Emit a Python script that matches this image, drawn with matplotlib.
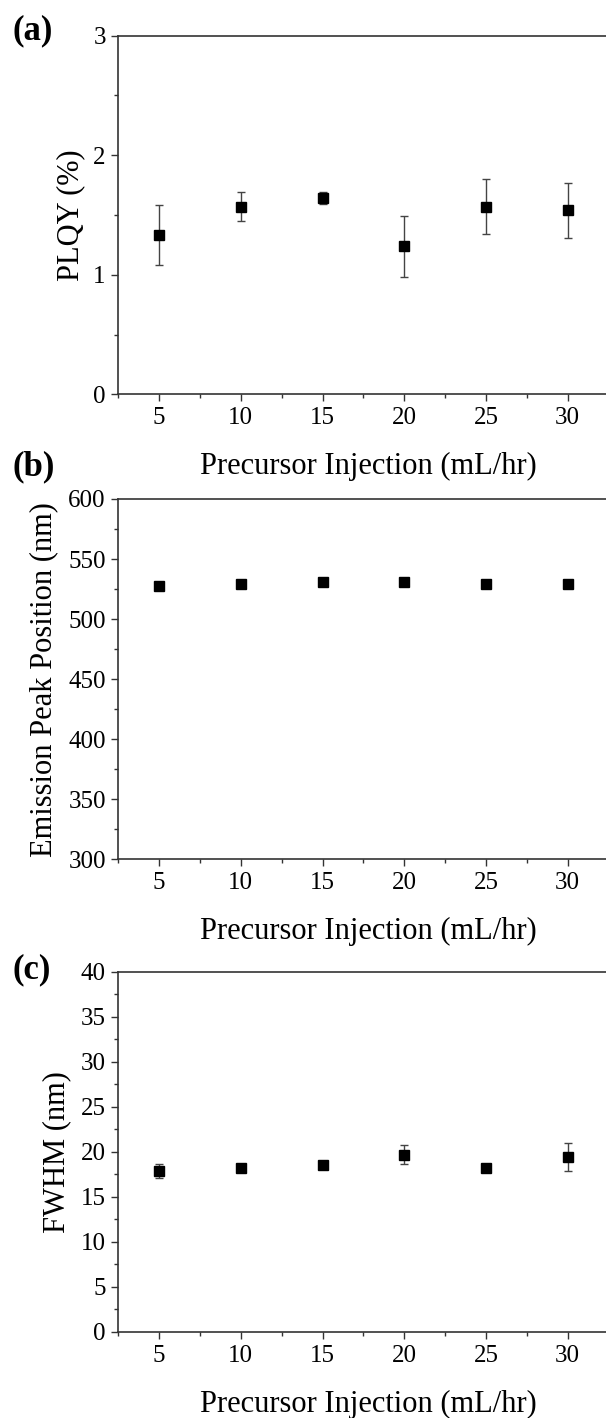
import matplotlib.pyplot as plt
from matplotlib.ticker import MultipleLocator

# injection rates (mL/hr)
rate = [5, 10, 15, 20, 25, 30]

# (a) PLQY (%)
plqy = [1.33, 1.57, 1.64, 1.24, 1.57, 1.54]
plqy_err = [0.25, 0.12, 0.05, 0.255, 0.23, 0.23]

# (b) emission peak position (nm)
peak = [527.6, 529.2, 530.6, 530.6, 529.5, 529.2]
peak_err = [1.0, 1.0, 0.5, 0.5, 0.5, 1.0]

# (c) FWHM (nm)
fwhm = [17.9, 18.2, 18.5, 19.7, 18.2, 19.4]
fwhm_err = [0.75, 0.3, 0.3, 1.05, 0.4, 1.57]

plt.rcParams['font.family'] = ['Liberation Serif', 'DejaVu Serif']

W, H = 606, 1418
fig = plt.figure(figsize=(W / 100, H / 100), dpi=100)

left_px, right_px = 118.3, 608.5
panels = [
    # top px, bottom px, data, err, ylabel, ylim, major, minor, ylabel x, tag, tag y
    (35.7, 394.3, plqy, plqy_err, 'PLQY (%)', (0, 3), 1, 0.5, -0.068, '(a)', 31),
    (499.0, 859.3, peak, peak_err, 'Emission Peak Position (nm)', (300, 600), 50, 25, -0.123, '(b)', 467),
    (971.7, 1332.0, fwhm, fwhm_err, 'FWHM (nm)', (0, 40), 5, 2.5, -0.097, '(c)', 970),
]

spine_col = '#333333'
for top, bot, y, yerr, ylab, ylim, maj, mnr, ylx, tag, tag_y in panels:
    ax = fig.add_axes([left_px / W, 1 - bot / H, (right_px - left_px) / W, (bot - top) / H])
    ax.errorbar(rate, y, yerr=yerr, fmt='s', color='black', markersize=7,
                ecolor='#444444', elinewidth=1.0, capsize=3, capthick=1.0, zorder=3)
    ax.set_xlim(2.5, 32.5)
    ax.set_ylim(*ylim)
    ax.xaxis.set_major_locator(MultipleLocator(5))
    ax.xaxis.set_minor_locator(MultipleLocator(2.5))
    ax.yaxis.set_major_locator(MultipleLocator(maj))
    ax.yaxis.set_minor_locator(MultipleLocator(mnr))
    for s in ax.spines.values():
        s.set_color(spine_col)
        s.set_linewidth(1.2)
    ax.tick_params(which='major', direction='out', length=5, width=1.0, color=spine_col,
                   labelsize=18, pad=4)
    ax.tick_params(which='minor', direction='out', length=3, width=1.0, color=spine_col)
    ax.tick_params(top=False, right=False, which='both')
    ax.set_xlabel('Precursor Injection (mL/hr)', fontsize=22)
    ax.xaxis.set_label_coords(0.511, -0.16)
    ax.set_ylabel(ylab, fontsize=22)
    ax.yaxis.set_label_coords(ylx, 0.5)
    fig.text(13 / W, 1 - tag_y / H, tag, fontsize=25, fontweight='bold',
             ha='left', va='center')

fig.savefig('out.png', dpi=100)
